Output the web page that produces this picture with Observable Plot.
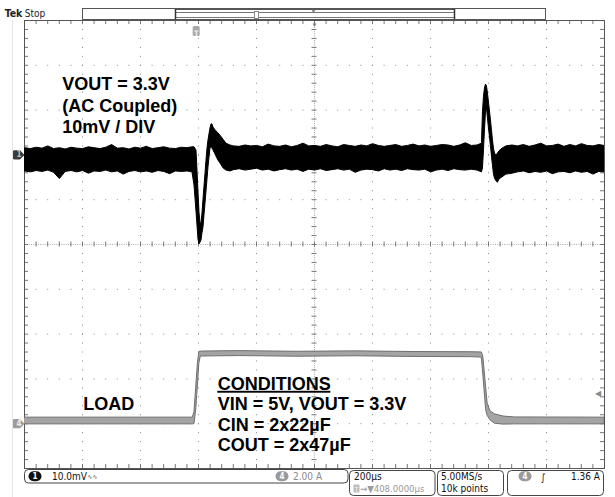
<!DOCTYPE html>
<html><head><meta charset="utf-8">
<script src="https://cdn.jsdelivr.net/npm/d3@7"></script>
<script src="https://cdn.jsdelivr.net/npm/@observablehq/plot@0.6"></script>
<style>body{margin:0;background:#fff}#chart svg{display:block}</style>
</head><body><div id="chart"></div>
<script>
// ---- scope settings ----
const timePerDiv = 200;        // µs / div
const triggerToCenter = 408;   // µs, trigger -> screen centre
const ch1ScaleMV = 10;         // mV / div
const ch1OffsetDiv = 2;        // CH1 ground marker (div)
const ch4ScaleA = 2;           // A / div
const ch4OffsetDiv = -4;       // CH4 ground marker (div)
const triggerLevelA = 1.36;

// ---- CH1 : VOUT (AC coupled), noise-band envelope in mV ----
const ch1Time = [-592,-590,-570,-550,-530,-510,-490,-470,-450,-430,-410,-390,-370,-350,-330,-310,-290,-270,-250,-230,-210,-190,-170,-150,-130,-110,-90,-70,-50,-30,
  -12.8,-5.9,1.0,4.5,7.9,11.4,14.8,18.3,21.7,25.2,28.6,32.1,35.5,39.0,42.4,45.9,49.3,52.8,56.2,59.7,66.6,76.9,83.8,94.1,104.5,118.3,
  130,150,170,190,210,230,250,270,290,310,330,350,370,390,410,430,450,470,490,510,530,550,570,590,610,630,650,670,690,710,730,750,770,790,810,830,850,870,890,910,930,950,970,
  985.5,988.9,992.4,995.8,999.3,1002.7,1006.2,1009.6,1013.1,1016.5,1020.0,1023.4,1026.9,1030.3,1035.5,1040.6,1045.8,1056.2,1070,1090.6,
  1110,1130,1150,1170,1190,1210,1230,1250,1270,1290,1310,1330,1350,1370,1390,1408];
const ch1Upper = [1.4,1.5,1.3,1.6,1.4,1.9,1.3,1.5,1.2,1.6,1.4,1.3,1.7,1.5,1.3,1.6,2.2,1.4,1.5,1.2,1.6,1.4,1.8,1.3,1.5,1.7,1.4,1.3,1.6,1.5,
  1.7,1.7,1.0,-3.5,-8.2,-12.9,-15.1,-15.5,-13.1,-10.0,-7.1,-4.2,-1.3,1.4,3.2,4.6,5.9,6.8,6.8,6.1,5.5,4.8,4.3,3.4,2.5,2.1,
  1.9,1.8,2.1,1.9,2.0,1.7,2.3,1.9,1.8,2.1,1.7,2.0,2.5,1.9,2.0,1.8,2.2,1.9,1.7,2.2,2.0,1.8,2.1,1.9,2.4,2.0,1.8,2.0,2.2,1.8,2.0,2.3,1.9,2.1,1.8,2.0,2.2,2.1,1.8,2.1,2.6,2.0,2.1,
  2.5,9.5,13.0,14.8,15.7,15.3,13.7,11.7,9.7,7.7,5.5,3.2,1.4,0.3,-0.1,0.3,0.8,1.4,1.9,2.1,
  1.9,2.2,1.8,2.1,2.5,1.9,2.0,2.3,1.8,2.2,1.9,2.4,2.0,1.9,2.2,2.0];
const ch1Lower = [-3.7,-3.7,-3.9,-3.6,-3.8,-3.5,-4.0,-5.4,-3.8,-3.6,-3.9,-3.6,-4.2,-3.7,-3.8,-3.5,-3.9,-3.7,-4.4,-3.8,-3.6,-3.9,-3.7,-4.0,-3.6,-3.8,-4.3,-3.7,-3.8,-3.7,
  -3.9,-6.8,-12.6,-15.8,-18.9,-20.0,-19.6,-19.1,-17.5,-16.2,-13.5,-10.9,-8.2,-5.5,-2.8,-0.6,1.4,1.9,1.4,1.0,0.1,-1.3,-1.9,-3.0,-3.5,-3.7,
  -3.4,-3.2,-3.5,-3.3,-3.1,-3.5,-3.3,-3.7,-3.4,-3.2,-3.5,-3.3,-3.8,-3.3,-3.5,-3.2,-3.6,-3.4,-3.2,-3.5,-3.3,-4.0,-3.5,-3.3,-3.4,-3.7,-3.2,-3.5,-3.3,-3.6,-3.2,-3.4,-3.5,-3.3,-3.9,-3.5,-3.3,-3.6,-3.2,-3.4,-3.5,-3.3,-3.5,
  -3.9,-3.0,1.0,5.5,9.5,10.4,8.1,5.9,3.9,1.9,-0.4,-2.4,-4.4,-5.3,-5.9,-6.2,-5.5,-5.0,-4.4,-4.2,
  -3.9,-3.7,-4.1,-3.8,-4.0,-3.7,-4.3,-3.9,-3.8,-4.1,-3.7,-4.0,-3.8,-4.4,-3.8,-3.9];

// ---- CH4 : LOAD current, band envelope in A ----
const loadTime  = [-592,-12,-6,0,6,11,16,150,350,550,750,950,985,990,1000,1005,1015,1030,1060,1100,1408];
const loadUpper = [0.27,0.27,0.5,1.6,2.7,3.2,3.22,3.24,3.21,3.23,3.2,3.19,3.18,3.0,1.6,0.9,0.55,0.42,0.32,0.28,0.27];
const loadLower = [-0.03,-0.03,-0.02,0.6,1.7,2.7,3.0,3.02,2.99,3.01,2.98,2.97,2.95,2.2,0.6,0.35,0.15,0.0,-0.04,-0.03,-0.03];

// ---- texts ----
const voutNote = ["VOUT = 3.3V", "(AC Coupled)", "10mV / DIV"];
const conditionsTitle = "CONDITIONS";
const conditionsLines = ["VIN = 5V, VOUT = 3.3V", "CIN = 2x22µF", "COUT = 2x47µF"];
const loadLabel = "LOAD";
const readoutCh1 = "10.0mV";
const readoutCh4 = "2.00 A";
const readoutTime = "200µs";
const readoutPos = "→▼408.0000µs";
const readoutRate = ["5.00MS/s", "10k points"];
const readoutTrig = "1.36 A";

// ---- build ----
const ch1 = ch1Time.map((t, i) => ({t, up: ch1Upper[i], lo: ch1Lower[i]}));
const load = loadTime.map((t, i) => ({t, up: loadUpper[i], lo: loadLower[i]}));
const xMin = triggerToCenter - 5 * timePerDiv, xMax = triggerToCenter + 5 * timePerDiv;
const W = 615, H = 497, mL = 24, mR = 11, mT = 20, mB = 29;
const pxPerDivX = (W - mL - mR) / 10, pxPerDivY = (H - mT - mB) / 10;
const usPerPx = timePerDiv / pxPerDivX, divPerPx = 1 / pxPerDivY;
const majorX = d3.range(1, 10).filter(k => k !== 5).map(k => xMin + k * timePerDiv);
const majorY = d3.range(-4, 5).filter(k => k !== 0);
const minorX = d3.range(1, 50).map(k => xMin + k * timePerDiv / 5);
const minorY = d3.range(-24, 25).map(k => k / 5);
const gridC = "#8a8a8a";
const boldFont = "Liberation Sans, Arial, Helvetica, sans-serif";
const roFont = "'DejaVu Sans Condensed', 'Roboto Condensed', Roboto, sans-serif";

const tagSym = {draw(c) { c.moveTo(-4,-4.6); c.lineTo(1.5,-4.6); c.lineTo(6,0); c.lineTo(1.5,4.6); c.lineTo(-4,4.6);
  c.arcTo(-6,4.6,-6,2.6,2); c.lineTo(-6,-2.6); c.arcTo(-6,-4.6,-4,-4.6,2); c.closePath(); }};
const tSym = {draw(c) { c.moveTo(-2,-5); c.lineTo(2,-5); c.arcTo(3.5,-5,3.5,-3.5,1.5); c.lineTo(3.5,3.5); c.arcTo(3.5,5,2,5,1.5);
  c.lineTo(-2,5); c.arcTo(-3.5,5,-3.5,3.5,1.5); c.lineTo(-3.5,-3.5); c.arcTo(-3.5,-5,-2,-5,1.5); c.closePath(); }};

const svg = Plot.plot({
  width: W, height: H, marginLeft: mL, marginRight: mR, marginTop: mT, marginBottom: mB,
  x: {domain: [xMin, xMax], axis: null},
  y: {domain: [-5, 5], axis: null},
  style: {background: "#fff", overflow: "visible"},
  marks: [
    Plot.ruleX(majorX, {stroke: gridC, strokeDasharray: `1,${pxPerDivY / 5 - 1}`}),
    Plot.ruleY(majorY, {stroke: gridC, strokeDasharray: `1,${pxPerDivX / 5 - 1}`}),
    Plot.ruleX([triggerToCenter], {stroke: "#a8a8a8", strokeDasharray: "1,1.24"}),
    Plot.ruleY([0], {stroke: "#a8a8a8", strokeDasharray: "1,1.32"}),
    Plot.ruleX(minorX, {y1: -2.5 * divPerPx, y2: 2.5 * divPerPx, stroke: "#777"}),
    Plot.ruleY(minorY, {x1: triggerToCenter - 2.5 * usPerPx, x2: triggerToCenter + 2.5 * usPerPx, stroke: "#777"}),
    Plot.ruleX(minorX, {y1: 5, y2: 5 - 4 * divPerPx, stroke: "#777"}),
    Plot.ruleX(minorX, {y1: -5, y2: -5 + 4 * divPerPx, stroke: "#777"}),
    Plot.ruleY(minorY, {x1: xMin, x2: xMin + 4 * usPerPx, stroke: "#777"}),
    Plot.ruleY(minorY, {x1: xMax - 4 * usPerPx, x2: xMax, stroke: "#777"}),
    Plot.frame({stroke: "#555"}),
    // traces
    Plot.areaY(load, {x: "t", y1: d => ch4OffsetDiv + d.lo / ch4ScaleA, y2: d => ch4OffsetDiv + d.up / ch4ScaleA,
      fill: "#a4a4a4", stroke: "#6f6f6f", strokeWidth: 1, clip: true}),
    Plot.areaY(ch1, {x: "t", y1: d => ch1OffsetDiv + d.lo / ch1ScaleMV, y2: d => ch1OffsetDiv + d.up / ch1ScaleMV,
      fill: "#000", stroke: "#000", strokeWidth: 1, clip: true}),
    // channel ground markers
    Plot.dot([ch1OffsetDiv], {y: d => d, frameAnchor: "left", dx: -6, symbol: tagSym, fill: "#3a3a3a", stroke: "none"}),
    Plot.text(["1"], {y: () => ch1OffsetDiv, frameAnchor: "left", dx: -8, fontSize: 8, fontWeight: "bold", fill: "#bbb", fontFamily: roFont}),
    Plot.dot([ch4OffsetDiv], {y: d => d, frameAnchor: "left", dx: -6, symbol: tagSym, fill: "#9c9c9c", stroke: "none"}),
    Plot.text(["4"], {y: () => ch4OffsetDiv, frameAnchor: "left", dx: -8, fontSize: 8, fontWeight: "bold", fill: "#eee", fontFamily: roFont}),
    // trigger level marker
    Plot.text(["◀"], {y: () => ch4OffsetDiv + triggerLevelA / ch4ScaleA, frameAnchor: "right", dx: -4, fontSize: 8, fill: "#8a8a8a"}),
    // trigger position marker
    Plot.dot([0], {x: d => d, frameAnchor: "top", dy: 10.5, symbol: tSym, fill: "#a8a8a8", stroke: "none"}),
    Plot.text(["T"], {x: () => 0, frameAnchor: "top", dy: 10.5, fontSize: 7.5, fontWeight: "bold", fill: "#eee", fontFamily: roFont}),
    Plot.text(["▼"], {x: () => triggerToCenter, frameAnchor: "top", dy: 2.5, fontSize: 6, fill: "#777"}),
    // annotations
    Plot.text([voutNote.join("\n")], {frameAnchor: "top-left", dx: 61.7 - mL, dy: 132.7 - mT, lineAnchor: "bottom", textAnchor: "start",
      lineHeight: 1.205, fontSize: 18, fontWeight: "bold", fontFamily: boldFont, fill: "#000"}),
    Plot.text([conditionsTitle], {frameAnchor: "top-left", dx: 217.3 - mL, dy: 389 - mT, lineAnchor: "bottom", textAnchor: "start",
      fontSize: 18, fontWeight: "bold", fontFamily: boldFont, fill: "#000"}),
    Plot.text([conditionsLines.join("\n")], {frameAnchor: "top-left", dx: 217.3 - mL, dy: 450.7 - mT, lineAnchor: "bottom", textAnchor: "start",
      lineHeight: 1.15, fontSize: 18, fontWeight: "bold", fontFamily: boldFont, fill: "#000"}),
    Plot.text([loadLabel], {frameAnchor: "top-left", dx: 82.7 - mL, dy: 409.3 - mT, lineAnchor: "bottom", textAnchor: "start",
      fontSize: 18, fontWeight: "bold", fontFamily: boldFont, fill: "#000"})
  ]
});
document.getElementById("chart").append(svg);

// underline for CONDITIONS
const s = d3.select(svg);
s.selectAll("text").filter(function () { return this.textContent === conditionsTitle; }).each(function () {
  const len = this.getComputedTextLength();
  s.append("rect").attr("x", 217.3).attr("y", 390.8).attr("width", len).attr("height", 1.9).attr("fill", "#000");
});

// ---- scope bezel / readouts ----
const ui = s.append("g").attr("font-family", roFont);
ui.append("line").attr("x1", 12.5).attr("x2", 12.5).attr("y1", 20).attr("y2", 497).attr("stroke", "#e4e4e4");
ui.append("text").attr("x", 13.5).attr("y", 16.5).attr("font-size", 10.5).attr("font-weight", "bold").attr("fill", "#222").text("Tek");
ui.append("text").attr("x", 35).attr("y", 16.5).attr("font-size", 10).attr("fill", "#222").text("Stop");
ui.append("rect").attr("x", 82.5).attr("y", 8.5).attr("width", 463).attr("height", 11).attr("fill", "#fff").attr("stroke", "#555");
ui.append("rect").attr("x", 175.5).attr("y", 12.5).attr("width", 279).attr("height", 5).attr("fill", "none").attr("stroke", "#777");
ui.append("line").attr("x1", 175.5).attr("x2", 454.5).attr("y1", 9.5).attr("y2", 9.5).attr("stroke", "#555");
[175.5, 454.5].forEach(x => ui.append("line").attr("x1", x).attr("x2", x).attr("y1", 9).attr("y2", 19.5).attr("stroke", "#333").attr("stroke-width", 1.5));
ui.append("rect").attr("x", 254.5).attr("y", 11.5).attr("width", 4).attr("height", 7).attr("fill", "#fff").attr("stroke", "#888");
ui.append("text").attr("x", 313.6).attr("y", 13).attr("font-size", 5).attr("text-anchor", "middle").attr("fill", "#777").text("▼");

function box(x, y, w, h) {
  ui.append("rect").attr("x", x).attr("y", y).attr("width", w).attr("height", h).attr("rx", 4)
    .attr("fill", "none").attr("stroke", "#444");
}
function pill(cx, cy, fill, label, txt) {
  ui.append("rect").attr("x", cx - 6.5).attr("y", cy - 5).attr("width", 13).attr("height", 10).attr("rx", 5).attr("fill", fill);
  ui.append("text").attr("x", cx).attr("y", cy + 3).attr("font-size", 8).attr("font-weight", "bold")
    .attr("text-anchor", "middle").attr("fill", txt).text(label);
}
function txt(x, y, str, fill, size = 10, anchor = "start") {
  ui.append("text").attr("x", x).attr("y", y).attr("font-size", size).attr("fill", fill).attr("text-anchor", anchor).text(str);
}
box(24.5, 469.5, 323.5, 13.5);
pill(35, 476.2, "#111", "1", "#fff");
txt(52, 480, readoutCh1, "#111");
txt(87.5, 478.5, "∿∿", "#333", 6.5);
pill(282, 476.2, "#9a9a9a", "4", "#fff");
txt(293, 480, readoutCh4, "#8a8a8a");

box(349.5, 470.5, 85.5, 25);
txt(354, 480, readoutTime, "#111");
ui.append("rect").attr("x", 353.5).attr("y", 484.5).attr("width", 6).attr("height", 8).attr("rx", 1).attr("fill", "#bbb");
txt(356.5, 491.5, "T", "#fff", 6.5, "middle");
txt(360, 492, readoutPos, "#9a9a9a", 9.5);

box(437.5, 470.5, 66, 25);
txt(441, 480, readoutRate[0], "#111");
txt(441, 492, readoutRate[1], "#111");

box(507.5, 470.5, 96, 25);
pill(525, 476.2, "#9a9a9a", "4", "#fff");
txt(543, 480.5, "∫", "#111", 10, "middle");
txt(600, 480, readoutTrig, "#111", 10, "end");
</script>
</body></html>
